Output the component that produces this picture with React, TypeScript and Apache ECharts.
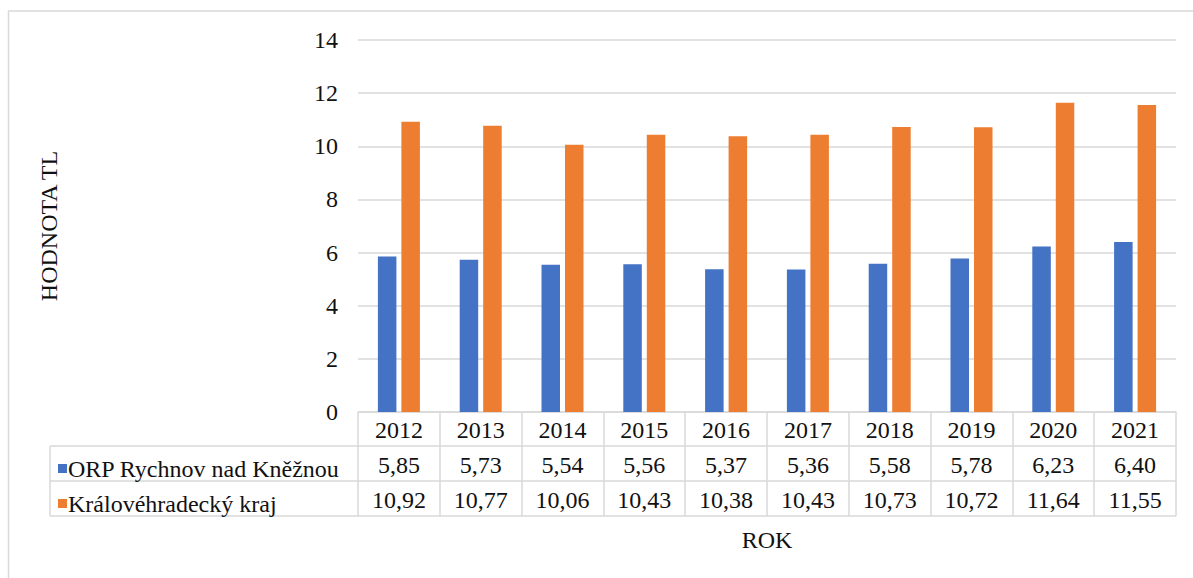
import React, { useEffect, useRef } from "react";
import * as echarts from "echarts";

const years = ["2012", "2013", "2014", "2015", "2016", "2017", "2018", "2019", "2020", "2021"];
const orpName = "ORP Rychnov nad Kněžnou";
const krajName = "Královéhradecký kraj";
const orpValues = [5.85, 5.73, 5.54, 5.56, 5.37, 5.36, 5.58, 5.78, 6.23, 6.4];
const krajValues = [10.92, 10.77, 10.06, 10.43, 10.38, 10.43, 10.73, 10.72, 11.64, 11.55];
const yAxisTitle = "HODNOTA TL";
const xAxisTitle = "ROK";

const FONT = "Liberation Serif";
const GRID_COLOR = "#d9d9d9";
const TEXT_COLOR = "#111111";
const FS = 24;

const fmt = (v: number) => v.toFixed(2).replace(".", ",");

export default function App() {
  const ref = useRef<HTMLDivElement>(null);

  useEffect(() => {
    document.body.style.margin = "0";
    if (!ref.current) return;
    const chart = echarts.init(ref.current, null, { renderer: "svg" });

    const plotLeft = 358;
    const plotRight = 1176;
    const rowH = 35;
    const axisY = 412;
    const tableLeft = 50;

    const hLines: any[] = [];
    for (let i = 1; i <= 3; i++) {
      const y = axisY + 34 + (i - 1) * rowH;
      hLines.push({
        type: "line",
        shape: { x1: tableLeft, y1: y, x2: plotRight, y2: y },
        style: { stroke: GRID_COLOR, lineWidth: 1.5 },
        silent: true,
      });
    }

    chart.setOption({
      animation: false,
      backgroundColor: "#ffffff",
      textStyle: { fontFamily: FONT, fontSize: FS },
      grid: { left: plotLeft, right: 1193 - plotRight, top: 40, bottom: 578 - axisY },
      legend: {
        orient: "vertical",
        left: tableLeft + 3,
        top: axisY + 34 + 4,
        itemWidth: 9,
        itemHeight: 9,
        itemGap: 8,
        icon: "rect",
        textStyle: { fontFamily: FONT, fontSize: FS, color: TEXT_COLOR, padding: [0, 0, 0, -4], lineHeight: 27 },
        data: [orpName, krajName],
        selectedMode: false,
      },
      xAxis: {
        type: "category",
        data: years,
        name: xAxisTitle,
        nameLocation: "middle",
        nameGap: 116,
        nameTextStyle: { fontFamily: FONT, fontSize: FS, color: TEXT_COLOR },
        axisLine: { show: true, lineStyle: { color: GRID_COLOR, width: 1.5 } },
        axisTick: { show: true, length: 104, lineStyle: { color: GRID_COLOR, width: 1.5 } },
        axisLabel: {
          margin: 0,
          interval: 0,
          fontFamily: FONT,
          fontSize: FS,
          color: TEXT_COLOR,
          formatter: (value: string, idx: number) =>
            `{y|${value}}\n{v|${fmt(orpValues[idx])}}\n{v|${fmt(krajValues[idx])}}`,
          rich: {
            y: { fontFamily: FONT, fontSize: FS, color: TEXT_COLOR, lineHeight: rowH, height: rowH },
            v: { fontFamily: FONT, fontSize: FS, color: TEXT_COLOR, lineHeight: rowH, height: rowH },
          },
        },
      },
      yAxis: {
        type: "value",
        min: 0,
        max: 14,
        interval: 2,
        name: yAxisTitle,
        nameLocation: "middle",
        nameRotate: 90,
        nameGap: 297,
        nameTextStyle: { fontFamily: FONT, fontSize: FS, color: TEXT_COLOR },
        axisLine: { show: false },
        axisTick: { show: false },
        axisLabel: { margin: 20, fontFamily: FONT, fontSize: FS, color: TEXT_COLOR },
        splitLine: { lineStyle: { color: GRID_COLOR, width: 1.5 } },
      },
      series: [
        {
          name: orpName,
          type: "bar",
          data: orpValues,
          barWidth: 18.5,
          barGap: "27%",
          itemStyle: { color: "#4472C4" },
        },
        {
          name: krajName,
          type: "bar",
          data: krajValues,
          barWidth: 18.5,
          barGap: "27%",
          itemStyle: { color: "#ED7D31" },
        },
      ],
      graphic: [
        {
          type: "rect",
          shape: { x: 8.5, y: 11, width: 1400, height: 800 },
          style: { fill: "none", stroke: GRID_COLOR, lineWidth: 1.5 },
          silent: true,
          z: -10,
        },
        {
          type: "line",
          shape: { x1: tableLeft, y1: axisY + 34, x2: tableLeft, y2: axisY + 34 + 2 * rowH },
          style: { stroke: GRID_COLOR, lineWidth: 1.5 },
          silent: true,
        },
        ...hLines,
      ],
    });

    return () => chart.dispose();
  }, []);

  return <div ref={ref} style={{ width: 1193, height: 578 }} />;
}
